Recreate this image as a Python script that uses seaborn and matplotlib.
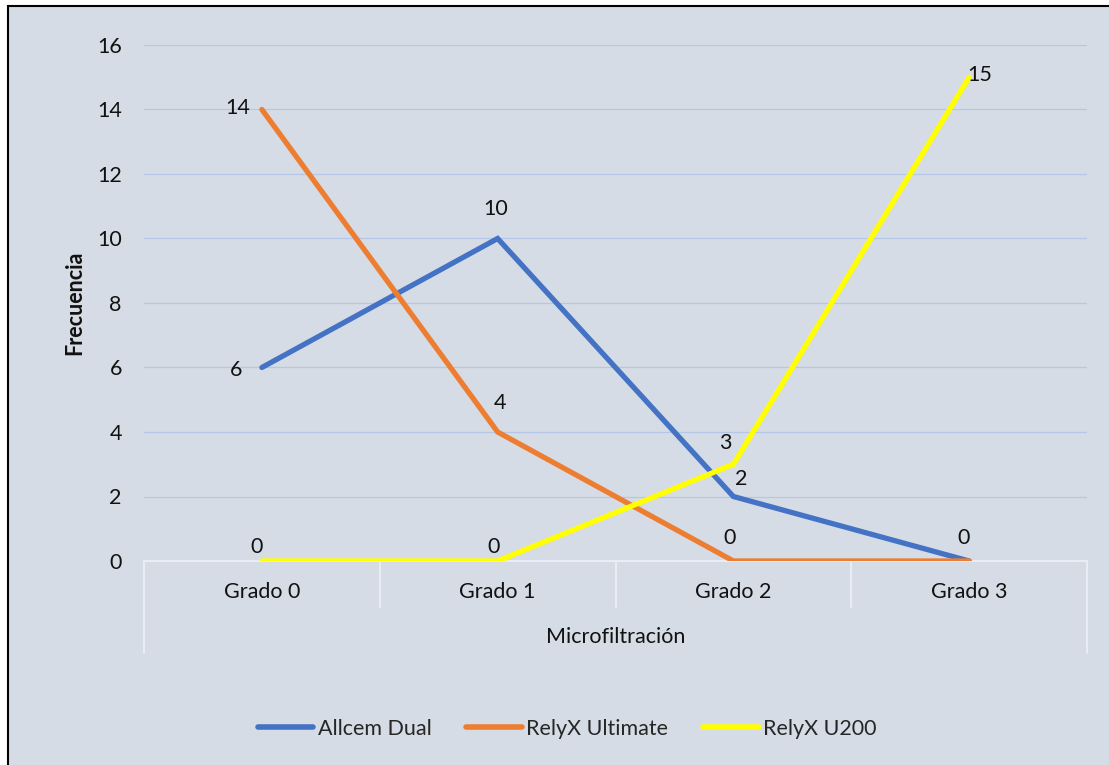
import matplotlib
matplotlib.use("Agg")
import matplotlib.pyplot as plt
import matplotlib.transforms as mtransforms
from matplotlib.patches import Rectangle
import seaborn as sns
import pandas as pd

# ---- data ----
categories = ["Grado 0", "Grado 1", "Grado 2", "Grado 3"]
series_names = ["Allcem Dual", "RelyX Ultimate", "RelyX U200"]
allcem_dual = [6, 10, 2, 0]
relyx_ultimate = [14, 4, 0, 0]
relyx_u200 = [0, 0, 3, 15]
y_ticks = [0, 2, 4, 6, 8, 10, 12, 14, 16]
x_title = "Microfiltración"
y_title = "Frecuencia"

# ---- style ----
colors = ["#4472C4", "#ED7D31", "#FFFF00"]
bg = "#D6DCE5"
fs = 15.5
# label offsets (pixels) per series / point
label_offsets = [
    [(-26, -3), (-2, 29), (8, 17), (-6, 23)],
    [(-24, 1), (2, 29), (-4, 23), (-6, 23)],
    [(-5, 14), (-4, 14), (-8, 21), (11, 2)],
]

sns.set_theme(style="white")
plt.rcParams["font.family"] = ["Lato", "DejaVu Sans"]

values = [allcem_dual, relyx_ultimate, relyx_u200]
df = pd.DataFrame({
    "cat": categories * len(series_names),
    "serie": [s for s in series_names for _ in categories],
    "val": [v for vals in values for v in vals],
})

fig = plt.figure(figsize=(11.09, 7.65), dpi=100, facecolor="white")
fig.patches.append(Rectangle((8 / 1109, -0.01), 1.02, 1 - 6 / 765 + 0.01,
                             transform=fig.transFigure, facecolor=bg,
                             edgecolor="black", linewidth=1.5, zorder=-10))
ax = fig.add_axes([144 / 1109, 1 - 561 / 765, (1087 - 144) / 1109, (561 - 45) / 765])
ax.set_facecolor("none")

sns.lineplot(data=df, x="cat", y="val", hue="serie", palette=colors,
             hue_order=series_names, sort=False, linewidth=3.8, ax=ax,
             legend=True, zorder=3)
for ln in ax.lines:
    ln.set_solid_capstyle("round")
    ln.set_solid_joinstyle("miter")

ax.set_xlim(-0.5, len(categories) - 0.5)
ax.set_ylim(0, 16)
ax.set_yticks(y_ticks)
ax.set_yticklabels([str(t) for t in y_ticks])
ax.yaxis.grid(True, color="#B4C7E7", linewidth=0.9)
ax.set_axisbelow(True)
for s in ["top", "right", "left"]:
    ax.spines[s].set_visible(False)
ax.spines["bottom"].set_color("#E9ECF2")
ax.spines["bottom"].set_linewidth(1.5)
ax.tick_params(axis="y", length=0, pad=16, labelsize=fs, labelcolor="#111111")
ax.tick_params(axis="x", length=0, pad=15, labelsize=fs, labelcolor="#111111")

ax.set_xlabel(x_title, fontsize=fs, color="#111111")
ax.xaxis.set_label_coords(0.5, -(637 - 561) / 516, transform=ax.transAxes)
ax.xaxis.label.set_va("center")
ax.set_ylabel(y_title, fontsize=fs, fontweight="bold", color="#111111")
ax.yaxis.set_label_coords((75 - 144) / 943, 0.5, transform=ax.transAxes)
ax.yaxis.label.set_va("center")

# category separators
trans = mtransforms.blended_transform_factory(ax.transData, ax.transAxes)
h = ax.get_position().height * 7.65 * 100
for i in range(len(categories) + 1):
    xb = i - 0.5
    depth = 92 if i in (0, len(categories)) else 46
    ax.plot([xb, xb], [0, -depth / h], transform=trans, color="#E9ECF2",
            linewidth=1.5, clip_on=False, zorder=1)

# data labels (identical overlapping labels drawn once)
drawn = set()
for si, vals in enumerate(values):
    for ci, v in enumerate(vals):
        dx, dy = label_offsets[si][ci]
        key = (ci, v, dx, dy)
        if key in drawn:
            continue
        drawn.add(key)
        ax.annotate(str(v), xy=(ci, v), xytext=(dx, dy), textcoords="offset pixels",
                    ha="center", va="center", fontsize=fs, color="#111111", zorder=5)

# legend
handles, labels = ax.get_legend_handles_labels()
ax.get_legend().remove()
for hd in handles:
    hd.set_linewidth(4.0)
    hd.set_solid_capstyle("round")
fig.legend(handles, labels, loc="center", bbox_to_anchor=(567 / 1109, 1 - 729 / 765),
           ncol=3, frameon=False, fontsize=fs, handlelength=2.6, handletextpad=0.2,
           columnspacing=1.6)

fig.savefig("out.png", dpi=100, facecolor="white")
